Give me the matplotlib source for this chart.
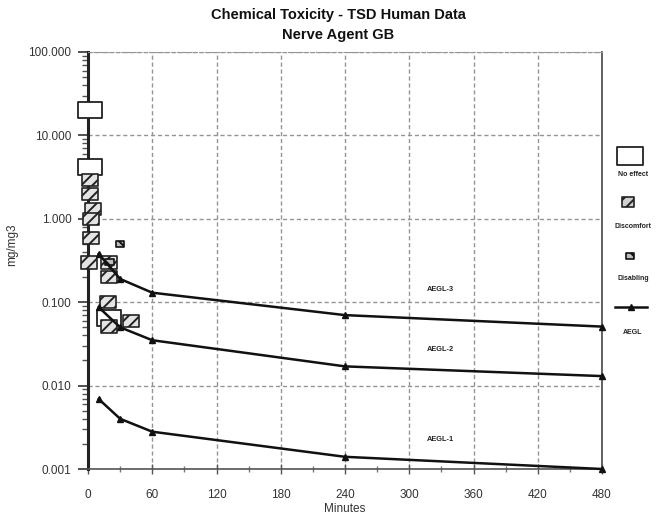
import matplotlib
matplotlib.use("Agg")
import matplotlib.pyplot as plt
from matplotlib.path import Path
from matplotlib.ticker import FixedLocator, FixedFormatter, LogLocator, NullFormatter, MultipleLocator

plt.rcParams['font.family'] = ['Liberation Sans', 'DejaVu Sans']
plt.rcParams['hatch.color'] = '#333333'
plt.rcParams['hatch.linewidth'] = 1.4

# AEGL values (mg/m3) at exposure durations (minutes)
aegl_minutes = [10, 30, 60, 240, 480]
aegl3 = [0.38, 0.19, 0.13, 0.070, 0.051]
aegl2 = [0.087, 0.050, 0.035, 0.017, 0.013]
aegl1 = [0.0069, 0.0040, 0.0028, 0.0014, 0.0010]

# Human exposure data points
no_effect_min = [2, 2, 20]
no_effect_val = [20.0, 4.2, 0.065]

discomfort_min = [2, 2, 5, 3, 3, 1, 20, 20, 19, 40, 20]
discomfort_val = [2.9, 2.0, 1.3, 1.0, 0.59, 0.30, 0.30, 0.20, 0.10, 0.060, 0.051]

disabling_min = [30, 20]
disabling_val = [0.5, 0.30]

x_ticks = [0, 60, 120, 180, 240, 300, 360, 420, 480]
y_ticks = [0.001, 0.01, 0.1, 1, 10, 100]
y_tick_labels = ["0.001", "0.010", "0.100", "1.000", "10.000", "100.000"]


def rect_marker(w, h):
    return Path([(-w, -h), (w, -h), (w, h), (-w, h), (-w, -h)],
                [Path.MOVETO, Path.LINETO, Path.LINETO, Path.LINETO, Path.CLOSEPOLY])


big_box = rect_marker(1.0, 0.68)
hatch_box = rect_marker(1.0, 0.78)
small_box = rect_marker(1.0, 0.72)

W, H = 662, 519
fig = plt.figure(figsize=(W / 100, H / 100), dpi=100)
fig.patch.set_facecolor('white')

left, right, top, bottom = 88, 602, 52, 469
ax = fig.add_axes([left / W, 1 - bottom / H, (right - left) / W, (bottom - top) / H])
ax.set_yscale('log')
ax.set_xlim(0, 480)
ax.set_ylim(0.001, 100)

# grid
ax.xaxis.set_major_locator(FixedLocator(x_ticks))
ax.xaxis.set_minor_locator(MultipleLocator(30))
ax.yaxis.set_major_locator(FixedLocator(y_ticks))
ax.yaxis.set_major_formatter(FixedFormatter(y_tick_labels))
ax.yaxis.set_minor_locator(LogLocator(base=10, subs=range(2, 10)))
ax.yaxis.set_minor_formatter(NullFormatter())
ax.grid(True, which='major', color='#959595', linestyle=(0, (3, 2)), linewidth=1.0, zorder=0)
ax.set_axisbelow(True)

ax.spines['left'].set_linewidth(2.2)
ax.spines['left'].set_color('#222222')
ax.spines['right'].set_color('#555555')
ax.spines['right'].set_linewidth(1.3)
ax.spines['bottom'].set_color('#555555')
ax.spines['bottom'].set_linewidth(1.2)
ax.spines['top'].set_color('#959595')
ax.spines['top'].set_linestyle((0, (3, 2)))

ax.tick_params(axis='y', which='major', direction='out', length=7, width=1.2,
               color='#333333', pad=5, labelsize=8.5, labelcolor='#333333')
ax.tick_params(axis='y', which='minor', direction='out', length=4, width=1.0, color='#555555')
ax.tick_params(axis='x', which='major', direction='inout', length=7, width=1.0,
               color='#555555', pad=11, labelsize=8.5, labelcolor='#333333')
ax.tick_params(axis='x', which='minor', direction='inout', length=4, width=1.0, color='#777777')

# exposure data boxes
ax.scatter(no_effect_min, no_effect_val, marker=big_box, s=290, facecolor='white',
           edgecolor='#222222', linewidth=1.3, zorder=3, clip_on=False)
ax.scatter(discomfort_min, discomfort_val, marker=hatch_box, s=130, facecolor='#e4e4e4',
           edgecolor='#222222', linewidth=1.2, hatch='///', zorder=3, clip_on=False)
ax.scatter(disabling_min, disabling_val, marker=small_box, s=36, facecolor='#bdbdbd',
           edgecolor='#111111', linewidth=1.2, hatch='\\\\\\', zorder=3, clip_on=False)

# AEGL curves
for vals in (aegl3, aegl2, aegl1):
    ax.plot(aegl_minutes, vals, color='#111111', linewidth=1.8, marker='^',
            markersize=4.5, zorder=4, clip_on=False)

for label, yv in (("AEGL-3", 0.143), ("AEGL-2", 0.027), ("AEGL-1", 0.00223)):
    ax.text(329, yv, label, ha='center', va='center', fontsize=5.3,
            fontweight='bold', color='#222222')

ax.set_xlabel("Minutes", fontsize=8.5, color='#333333', labelpad=1)
fig.text(12 / W, 1 - 245 / H, "mg/mg3", rotation=90, ha='center', va='center',
         fontsize=8.5, color='#333333')

fig.text(338 / W, 1 - 15 / H, "Chemical Toxicity - TSD Human Data", ha='center',
         va='center', fontsize=10.5, fontweight='bold', color='#111111')
fig.text(338 / W, 1 - 35 / H, "Nerve Agent GB", ha='center', va='center',
         fontsize=10.5, fontweight='bold', color='#111111')

# legend drawn in pixel space to the right of the plot
lg = fig.add_axes([0, 0, 1, 1], facecolor='none')
lg.set_xlim(0, W)
lg.set_ylim(H, 0)
lg.axis('off')
lg.scatter([630], [156], marker=big_box, s=330, facecolor='white', edgecolor='#222222',
           linewidth=1.3, zorder=3)
lg.scatter([628], [202], marker=hatch_box, s=75, facecolor='#d0d0d0', edgecolor='#222222',
           linewidth=1.2, hatch='///', zorder=3)
lg.scatter([630], [256], marker=small_box, s=36, facecolor='#bdbdbd', edgecolor='#111111',
           linewidth=1.2, hatch='\\\\\\', zorder=3)
lg.plot([615, 647], [307, 307], color='#111111', linewidth=1.8)
lg.plot([631], [307], marker='^', color='#111111', markersize=4.5)
for text, yy in (("No effect", 174), ("Discomfort", 227), ("Disabling", 278), ("AEGL", 332)):
    lg.text(633, yy, text, ha='center', va='center', fontsize=5, fontweight='bold',
            color='#222222')

fig.savefig("out.png", dpi=100)
